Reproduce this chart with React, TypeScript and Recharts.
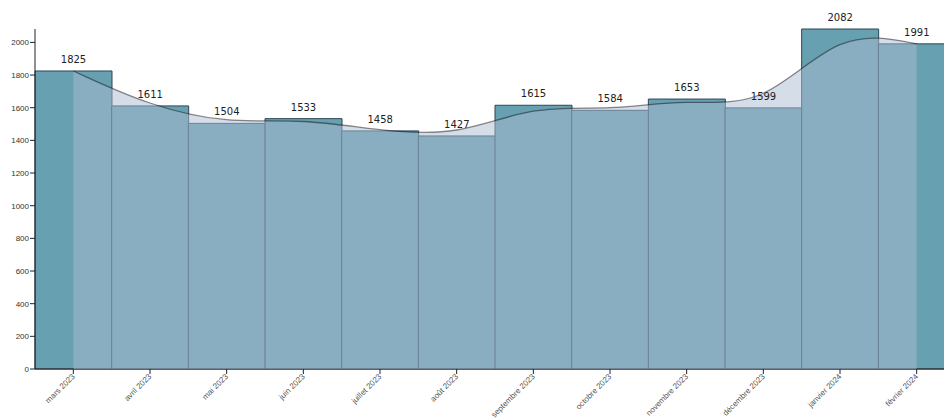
import { ComposedChart, Bar, Area, XAxis, YAxis, LabelList } from "recharts"

/* ---------------------------------
   Data
---------------------------------- */
const months = [
  "mars 2023",
  "avril 2023",
  "mai 2023",
  "juin 2023",
  "juillet 2023",
  "août 2023",
  "septembre 2023",
  "octobre 2023",
  "novembre 2023",
  "décembre 2023",
  "janvier 2024",
  "février 2024",
]
const counts = [1825, 1611, 1504, 1533, 1458, 1427, 1615, 1584, 1653, 1599, 2082, 1991]
const yTicks = [0, 200, 400, 600, 800, 1000, 1200, 1400, 1600, 1800, 2000]

const data = months.map((month, i) => ({ month, count: counts[i] }))

const tickFont = "'Liberation Sans', Arial, sans-serif"

/* ---------------------------------
   Rotated month tick
---------------------------------- */
function MonthTick({ x, y, payload }: { x?: number; y?: number; payload?: { value?: string } }) {
  return (
    <g transform={`translate(${(x ?? 0) + 2},${(y ?? 0) + 1})`}>
      <text
        x={0}
        y={0}
        textAnchor="end"
        transform="rotate(-45)"
        fontSize={8}
        fill="#555"
        fontFamily={tickFont}
      >
        {payload?.value}
      </text>
    </g>
  )
}

/* ---------------------------------
   Chart
---------------------------------- */
export default function App() {
  return (
    <div
      style={{
        position: "absolute",
        left: 0,
        top: 0,
        width: 944,
        height: 419,
        overflow: "hidden",
        background: "#fff",
      }}
    >
      <ComposedChart
        width={960}
        height={419}
        data={data}
        barCategoryGap={0}
        margin={{ top: 29, right: 5, left: 0, bottom: 0 }}
      >
        <XAxis
          dataKey="month"
          interval={0}
          height={50}
          tickSize={5}
          tickMargin={2}
          axisLine={{ stroke: "#222" }}
          tickLine={{ stroke: "#222" }}
          tick={<MonthTick />}
        />
        <YAxis
          width={35}
          domain={[0, "dataMax"]}
          ticks={yTicks}
          tickSize={5}
          tickMargin={1}
          axisLine={{ stroke: "#222" }}
          tickLine={{ stroke: "#222" }}
          tick={{ fontSize: 8, fill: "#333", fontFamily: tickFont }}
        />
        <Bar
          dataKey="count"
          fill="#67a1b1"
          stroke="#2c4555"
          strokeWidth={1}
          isAnimationActive={false}
        >
          <LabelList
            dataKey="count"
            position="top"
            offset={8}
            fontSize={10}
            fill="#222"
            fontFamily="'DejaVu Sans', Verdana, sans-serif"
          />
        </Bar>
        <Area
          type="basis"
          dataKey="count"
          zIndex={500}
          fill="#abbbd2"
          fillOpacity={0.5}
          stroke="#000"
          strokeOpacity={0.45}
          strokeWidth={1.3}
          isAnimationActive={false}
        />
      </ComposedChart>
    </div>
  )
}
